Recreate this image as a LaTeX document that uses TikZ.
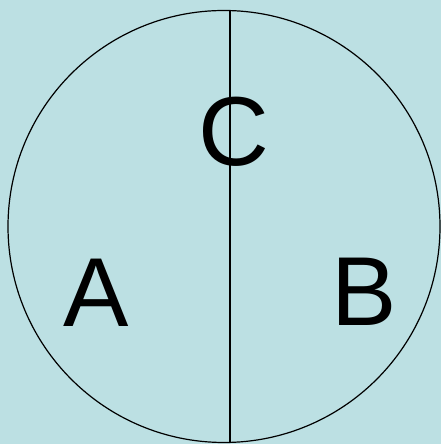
\documentclass[tikz,border=0pt]{standalone}
\usepackage{fontspec}
\setmainfont{Liberation Sans}
\usetikzlibrary{calc}
\definecolor{paleblue}{RGB}{188,224,227}

\begin{document}
\begin{tikzpicture}[
    x=1pt, y=1pt,
    ring/.style  ={draw, circle, line width=1.2pt, minimum size=432pt, inner sep=0pt},
    chord/.style ={line width=1.2pt},
    lbl/.style   ={inner sep=0pt, font=\fontsize{98}{98}\selectfont},
]

% background and bounding box
\fill[paleblue] (0,0) rectangle (441,444);
\useasboundingbox (0,0) rectangle (441,444);

% circle
\node[ring] (circ) at (224,217.5) {};

% vertical chord
\coordinate (top) at ($(circ.center)+(6,215.9)$);
\coordinate (bot) at ($(circ.center)+(6,-215.9)$);
\draw[chord] (top) -- (bot);

% labels
\node[lbl] (la) at (96.5,151) {A};
\node[lbl] (lb) at (364,152) {B};
\node[lbl] (lc) at (234,312) {C};

\end{tikzpicture}
\end{document}
